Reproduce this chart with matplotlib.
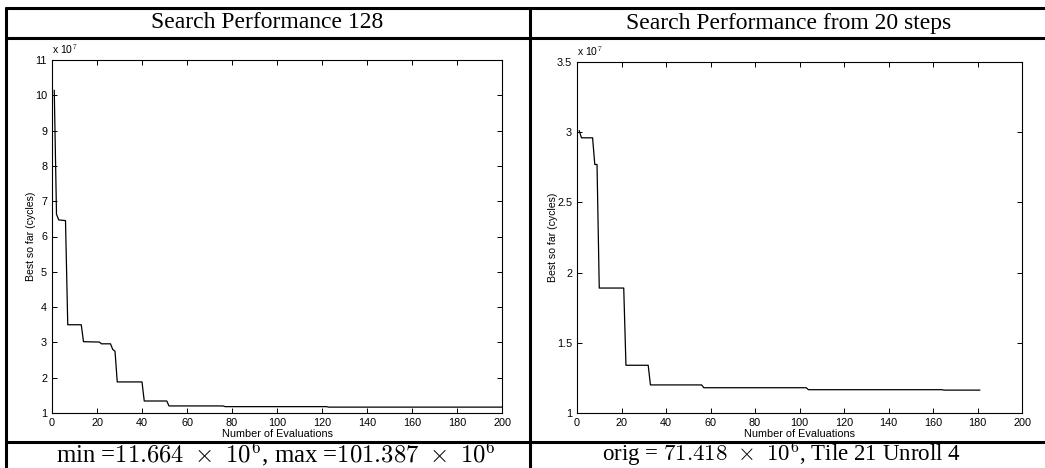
import matplotlib.pyplot as plt
from matplotlib import rcParams

rcParams['mathtext.fontset'] = 'cm'

# best-so-far cycle counts (x 10^7) against evaluation number
left_evals = [1, 2, 3, 6, 7, 13, 14, 21, 22, 26, 27, 28, 29, 40, 41, 51, 52,
              76, 77, 122, 123, 200]
left_best = [10.1387, 6.63, 6.47, 6.45, 3.50, 3.50, 3.02, 3.01, 2.96, 2.96,
             2.80, 2.75, 1.88, 1.88, 1.34, 1.34, 1.20, 1.20, 1.18, 1.18,
             1.1664, 1.1664]

right_evals = [1, 2, 7, 8, 9, 10, 21, 22, 32, 33, 56, 57, 103, 104, 164, 165, 181]
right_best = [3.01, 2.96, 2.96, 2.77, 2.77, 1.89, 1.89, 1.34, 1.34, 1.20, 1.20,
              1.18, 1.18, 1.166, 1.166, 1.163, 1.163]

left_yticks = [1, 2, 3, 4, 5, 6, 7, 8, 9, 10, 11]
right_yticks = [1, 1.5, 2, 2.5, 3, 3.5]
xticks = [0, 20, 40, 60, 80, 100, 120, 140, 160, 180, 200]

titles = ['Search Performance 128', 'Search Performance from 20 steps']
captions = [r'min =$11.664\ \times\ 10^6$, max =$101.387\ \times\ 10^6$',
            r'orig = $71.418\ \times\ 10^6$, Tile 21 Unroll 4']

W, H = 1045, 468
fig = plt.figure(figsize=(W / 100, H / 100), dpi=100)

TICK_FONT = 'Liberation Sans'
SERIF = 'Liberation Serif'


def px_axes(x0, y0, x1, y1):
    # axes rectangle given in pixel coords measured from the top-left
    return fig.add_axes([x0 / W, 1 - y1 / H, (x1 - x0) / W, (y1 - y0) / H])


def setup(ax, yticks, ylim):
    ax.set_xlim(0, 200)
    ax.set_ylim(*ylim)
    ax.set_xticks(xticks)
    ax.set_xticklabels([str(t) for t in xticks])
    ax.set_yticks(yticks)
    ax.set_yticklabels([('%g' % t) for t in yticks])
    ax.tick_params(direction='in', length=3.5, width=0.7, top=True, right=True,
                   labelsize=7.8, pad=3.5)
    for lab in ax.get_xticklabels() + ax.get_yticklabels():
        lab.set_family(TICK_FONT)
    for s in ax.spines.values():
        s.set_linewidth(0.8)
    ax.set_xlabel('Number of Evaluations', fontsize=7.8, family=TICK_FONT, labelpad=0.5)
    ax.set_ylabel('Best so far (cycles)', fontsize=7.6, family=TICK_FONT, labelpad=-1)
    ax.text(0.0, 1.012, r'x 10$^{7}$', transform=ax.transAxes, fontsize=7.5,
            family=TICK_FONT, ha='left', va='bottom')


ax1 = px_axes(52, 60, 502, 413)
ax1.plot(left_evals, left_best, color='black', lw=0.9)
setup(ax1, left_yticks, (1, 11))

ax2 = px_axes(577, 62, 1022, 413)
ax2.plot(right_evals, right_best, color='black', lw=0.9)
setup(ax2, right_yticks, (1, 3.5))

# table frame drawn on a full-figure overlay in pixel units
frame = fig.add_axes([0, 0, 1, 1], zorder=-1)
frame.set_xlim(0, W)
frame.set_ylim(H, 0)
frame.axis('off')
lw = 2.2
frame.plot([5, W], [8, 8], color='black', lw=lw, solid_capstyle='butt')
frame.plot([5, W], [38, 38], color='black', lw=lw, solid_capstyle='butt')
frame.plot([5, W], [442, 442], color='black', lw=lw, solid_capstyle='butt')
frame.plot([6, 6], [7, H], color='black', lw=lw, solid_capstyle='butt')
frame.plot([530, 530], [7, H], color='black', lw=lw, solid_capstyle='butt')

for cx, title in zip([267, 789], titles):
    frame.text(cx, 23, title, fontsize=17, family=SERIF, ha='center', va='center')
for cx, cap, size in zip([276, 781], captions, [17.8, 16.5]):
    frame.text(cx, 454, cap, fontsize=size, family=SERIF, ha='center', va='center')

fig.savefig('out.png', dpi=100, facecolor='white')
